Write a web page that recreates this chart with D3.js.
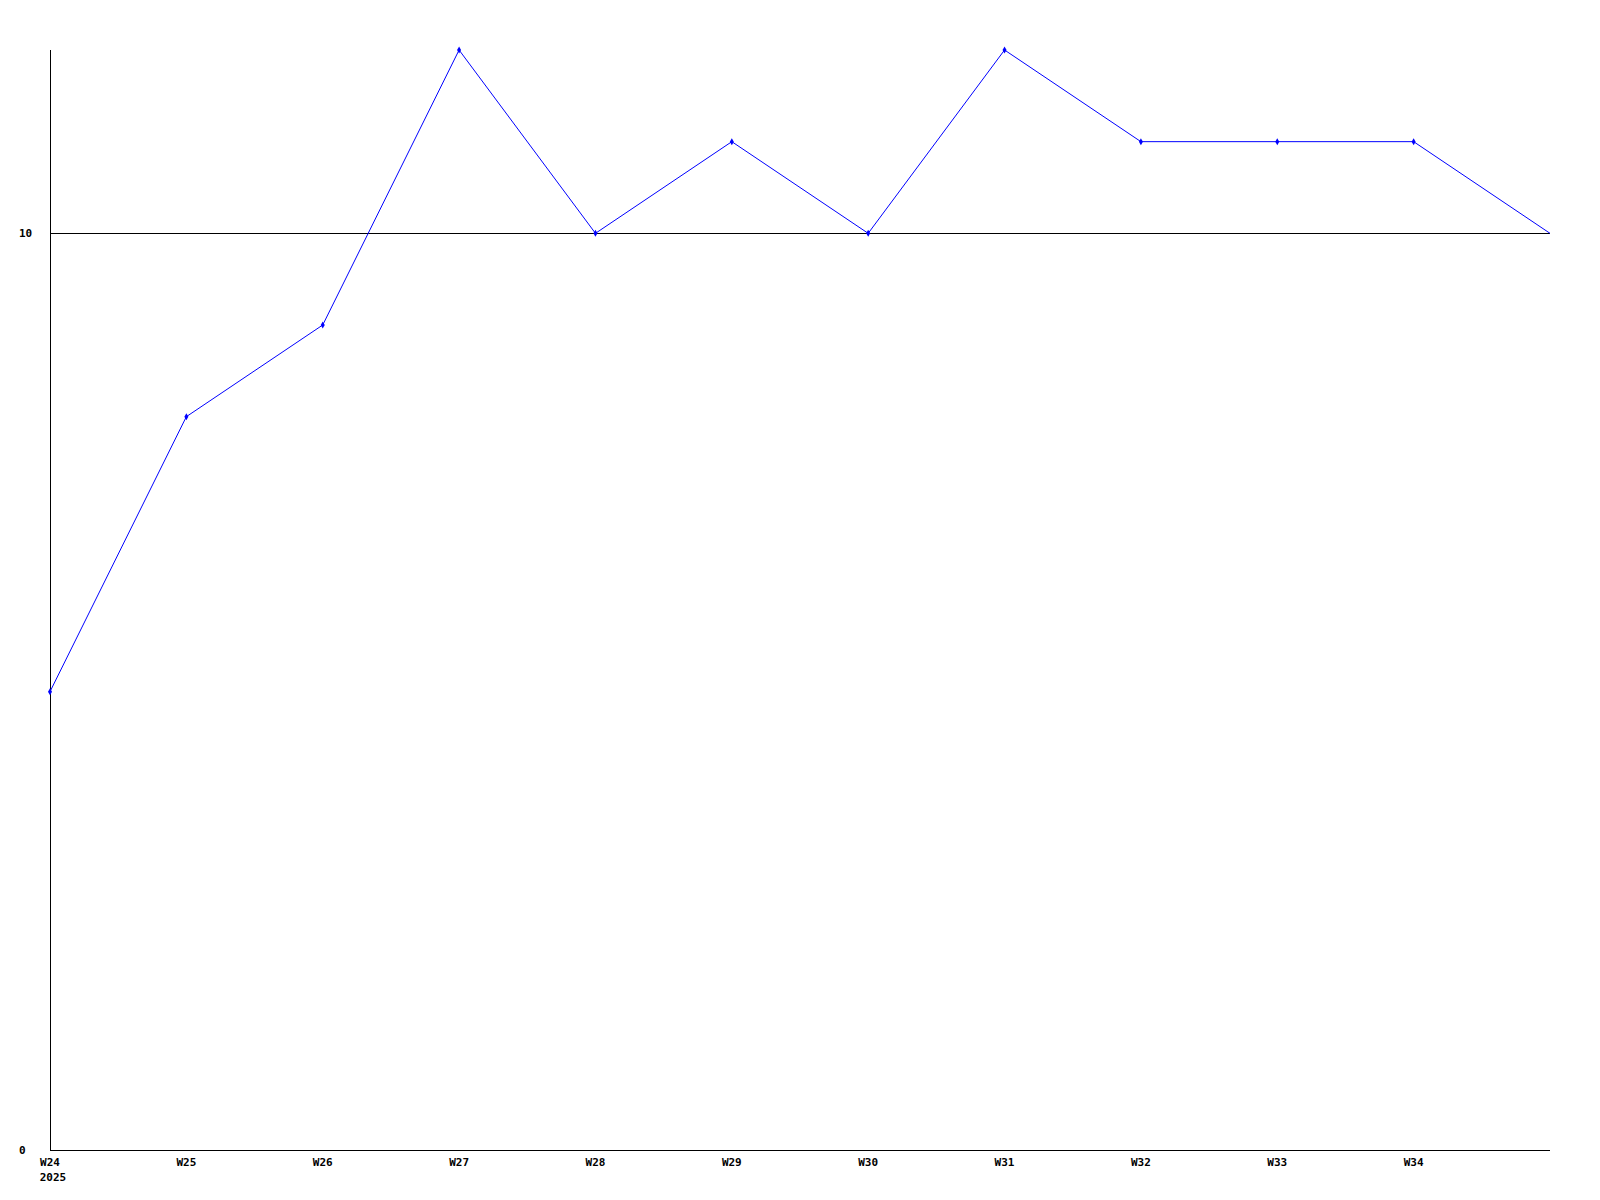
<!DOCTYPE html>
<html><head><meta charset="utf-8">
<script src="https://cdn.jsdelivr.net/npm/d3@7"></script>
<style>body{margin:0;background:#fff}svg{display:block}text{font-family:"DejaVu Sans Mono",monospace;font-weight:bold;font-size:11px}</style>
</head><body>
<svg id="c" width="1600" height="1200"></svg>
<script>
const weeks = ["W24","W25","W26","W27","W28","W29","W30","W31","W32","W33","W34","W35"];
const values = [5,8,9,12,10,11,10,12,11,11,11,10];
const weekLabels = ["W24","W25","W26","W27","W28","W29","W30","W31","W32","W33","W34"];
const yearLabel = "2025";
const yTicks = [0,10];

const svg = d3.select("#c");
const L=50, R=1550, T=50, B=1150;
const x = d3.scalePoint().domain(weeks).range([L,R]);
const y = d3.scaleLinear().domain([0,12]).range([B,T]);

// horizontal line at 10
svg.selectAll("line.grid").data(yTicks.filter(d=>d>0)).join("line")
  .attr("x1",L).attr("x2",R).attr("y1",d=>Math.round(y(d))+0.5).attr("y2",d=>Math.round(y(d))+0.5)
  .attr("stroke","#000").attr("stroke-width",1).attr("shape-rendering","crispEdges");
// axes
svg.append("line").attr("x1",L+0.5).attr("x2",L+0.5).attr("y1",T).attr("y2",B).attr("stroke","#000").attr("shape-rendering","crispEdges");
svg.append("line").attr("x1",L).attr("x2",R).attr("y1",B+0.5).attr("y2",B+0.5).attr("stroke","#000").attr("shape-rendering","crispEdges");

svg.selectAll("text.yt").data(yTicks).join("text")
  .attr("x",19).attr("y",d=>y(d)+4).attr("text-anchor","start").text(d=>d);
svg.selectAll("text.xt").data(weekLabels).join("text")
  .attr("x",d=>x(d)).attr("y",1166).attr("text-anchor","middle").text(d=>d);
svg.append("text").attr("x",x(weeks[0])+3).attr("y",1181).attr("text-anchor","middle").text(yearLabel);

const data = weeks.map((w,i)=>({w,v:values[i]}));
svg.append("path").datum(data)
  .attr("d",d3.line().x(d=>x(d.w)).y(d=>y(d.v)))
  .attr("fill","none").attr("stroke","#0000ff").attr("stroke-width",1);
svg.selectAll("path.m").data(data.slice(0,-1)).join("path")
  .attr("transform",d=>`translate(${x(d.w)},${y(d.v)})`)
  .attr("d",d3.symbol(d3.symbolDiamond,14)).attr("fill","#0000ff");
</script>
</body></html>
